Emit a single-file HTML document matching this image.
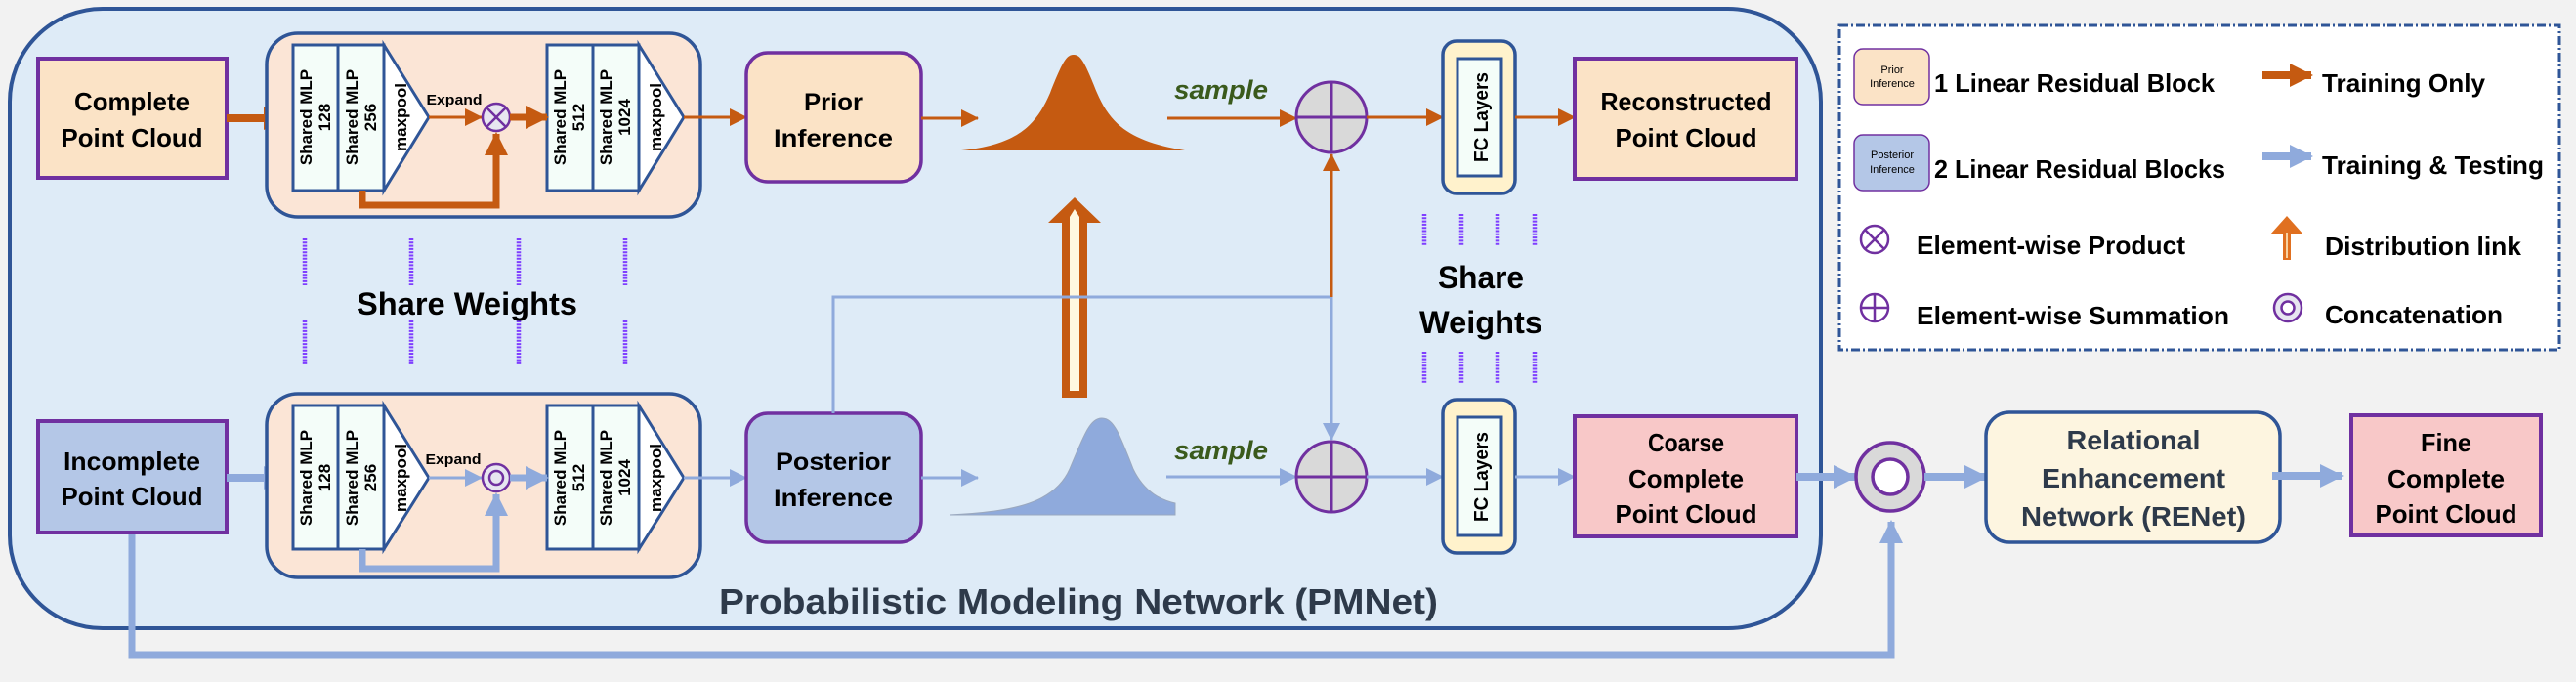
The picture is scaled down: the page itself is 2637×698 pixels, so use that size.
<!DOCTYPE html>
<html><head><meta charset="utf-8"><style>
html,body{margin:0;padding:0;background:#f2f2f2;}
svg{display:block;font-family:"Liberation Sans",sans-serif;font-weight:bold;}
</style></head><body>
<svg width="2637" height="698" viewBox="0 0 2637 698" xmlns="http://www.w3.org/2000/svg">
<defs>
<marker id="ob" markerUnits="userSpaceOnUse" markerWidth="24" markerHeight="24" refX="22" refY="12" orient="auto"><path d="M0,0 L24,12 L0,24 Z" fill="#c55a11"/></marker>
<marker id="os" markerUnits="userSpaceOnUse" markerWidth="18" markerHeight="18" refX="17" refY="9" orient="auto"><path d="M0,0 L18,9 L0,18 Z" fill="#c55a11"/></marker>
<marker id="bb" markerUnits="userSpaceOnUse" markerWidth="24" markerHeight="24" refX="22" refY="12" orient="auto"><path d="M0,0 L24,12 L0,24 Z" fill="#8faadc"/></marker>
<marker id="bs" markerUnits="userSpaceOnUse" markerWidth="18" markerHeight="18" refX="17" refY="9" orient="auto"><path d="M0,0 L18,9 L0,18 Z" fill="#8faadc"/></marker>
</defs>
<rect width="2637" height="698" fill="#f2f2f2"/>
<rect x="10" y="9" width="1854" height="634" rx="95" fill="#deebf7" stroke="#2f5597" stroke-width="4"/>

<path d="M135,545 L135,670 L1936,670 L1936,534" fill="none" stroke="#8faadc" stroke-width="7" marker-end="url(#bb)"/>

<rect x="39" y="60" width="193" height="122" fill="#fbe3c6" stroke="#7030a0" stroke-width="4"/>
<text x="135" y="113" font-size="26" text-anchor="middle" textLength="118" lengthAdjust="spacingAndGlyphs">Complete</text>
<text x="135" y="150" font-size="26" text-anchor="middle" textLength="145" lengthAdjust="spacingAndGlyphs">Point Cloud</text>
<rect x="39" y="431" width="193" height="114" fill="#b4c7e7" stroke="#7030a0" stroke-width="4"/>
<text x="135" y="481" font-size="26" text-anchor="middle" textLength="140" lengthAdjust="spacingAndGlyphs">Incomplete</text>
<text x="135" y="517" font-size="26" text-anchor="middle" textLength="145" lengthAdjust="spacingAndGlyphs">Point Cloud</text>

<line x1="232" y1="121" x2="292" y2="121" stroke="#c55a11" stroke-width="8" marker-end="url(#ob)"/>
<line x1="232" y1="489" x2="292" y2="489" stroke="#8faadc" stroke-width="8" marker-end="url(#bb)"/>

<rect x="273" y="34" width="444" height="188" rx="32" fill="#fbe5d6" stroke="#2f5597" stroke-width="3.5"/>
<rect x="273" y="403" width="444" height="188" rx="32" fill="#fbe5d6" stroke="#2f5597" stroke-width="3.5"/>

<g stroke="#2f5597" stroke-width="3" fill="#f4fdf9">
<rect x="300" y="46" width="46" height="149"/><rect x="346" y="46" width="47" height="149"/>
<path d="M393,46 L439,120 L393,195 Z" fill="#fff"/>
<rect x="560" y="46" width="47" height="149"/><rect x="607" y="46" width="47" height="149"/>
<path d="M654,46 L700,120 L654,195 Z" fill="#fff"/>
<rect x="300" y="415" width="46" height="147"/><rect x="346" y="415" width="47" height="147"/>
<path d="M393,415 L439,489 L393,562 Z" fill="#fff"/>
<rect x="560" y="415" width="47" height="147"/><rect x="607" y="415" width="47" height="147"/>
<path d="M654,415 L700,489 L654,562 Z" fill="#fff"/>
</g>
<g font-size="17" text-anchor="middle" fill="#000">
<g transform="translate(323,120) rotate(-90)"><text y="-4">Shared MLP</text><text y="15">128</text></g>
<g transform="translate(370,120) rotate(-90)"><text y="-4">Shared MLP</text><text y="15">256</text></g>
<g transform="translate(410,120) rotate(-90)"><text y="6">maxpool</text></g>
<g transform="translate(583,120) rotate(-90)"><text y="-4">Shared MLP</text><text y="15">512</text></g>
<g transform="translate(630,120) rotate(-90)"><text y="-4">Shared MLP</text><text y="15">1024</text></g>
<g transform="translate(671,120) rotate(-90)"><text y="6">maxpool</text></g>
<g transform="translate(323,489) rotate(-90)"><text y="-4">Shared MLP</text><text y="15">128</text></g>
<g transform="translate(370,489) rotate(-90)"><text y="-4">Shared MLP</text><text y="15">256</text></g>
<g transform="translate(410,489) rotate(-90)"><text y="6">maxpool</text></g>
<g transform="translate(583,489) rotate(-90)"><text y="-4">Shared MLP</text><text y="15">512</text></g>
<g transform="translate(630,489) rotate(-90)"><text y="-4">Shared MLP</text><text y="15">1024</text></g>
<g transform="translate(671,489) rotate(-90)"><text y="6">maxpool</text></g>
</g>
<text x="465" y="107" font-size="15" text-anchor="middle" textLength="57" lengthAdjust="spacingAndGlyphs">Expand</text>
<text x="464" y="475" font-size="15" text-anchor="middle" textLength="57" lengthAdjust="spacingAndGlyphs">Expand</text>

<line x1="439" y1="120" x2="493" y2="120" stroke="#c55a11" stroke-width="3" marker-end="url(#os)"/>
<path d="M371,195 L371,210 L508,210 L508,137" fill="none" stroke="#c55a11" stroke-width="7" marker-end="url(#ob)"/>
<circle cx="508" cy="120" r="14" fill="#e7e6f0" stroke="#7030a0" stroke-width="2.5"/>
<path d="M498,110 L518,130 M518,110 L498,130" stroke="#7030a0" stroke-width="2.5"/>
<line x1="522" y1="120" x2="560" y2="120" stroke="#c55a11" stroke-width="7" marker-end="url(#ob)"/>
<line x1="700" y1="120" x2="764" y2="120" stroke="#c55a11" stroke-width="3" marker-end="url(#os)"/>

<line x1="439" y1="489" x2="493" y2="489" stroke="#8faadc" stroke-width="3" marker-end="url(#bs)"/>
<path d="M371,562 L371,582 L508,582 L508,506" fill="none" stroke="#8faadc" stroke-width="7" marker-end="url(#bb)"/>
<circle cx="508" cy="489" r="14" fill="#e7e6f0" stroke="#7030a0" stroke-width="2.5"/>
<circle cx="508" cy="489" r="7" fill="none" stroke="#7030a0" stroke-width="2.5"/>
<line x1="522" y1="489" x2="560" y2="489" stroke="#8faadc" stroke-width="7" marker-end="url(#bb)"/>
<line x1="700" y1="489" x2="764" y2="489" stroke="#8faadc" stroke-width="3" marker-end="url(#bs)"/>

<g stroke="#7f3fff" stroke-width="4.5" stroke-dasharray="2 1.3">
<line x1="312" y1="244" x2="312" y2="292"/><line x1="421" y1="244" x2="421" y2="292"/><line x1="531" y1="244" x2="531" y2="292"/><line x1="640" y1="244" x2="640" y2="292"/>
<line x1="312" y1="328" x2="312" y2="373"/><line x1="421" y1="328" x2="421" y2="373"/><line x1="531" y1="328" x2="531" y2="373"/><line x1="640" y1="328" x2="640" y2="373"/>
<line x1="1458" y1="219" x2="1458" y2="251"/><line x1="1496" y1="219" x2="1496" y2="251"/><line x1="1533" y1="219" x2="1533" y2="251"/><line x1="1571" y1="219" x2="1571" y2="251"/>
<line x1="1458" y1="360" x2="1458" y2="392"/><line x1="1496" y1="360" x2="1496" y2="392"/><line x1="1533" y1="360" x2="1533" y2="392"/><line x1="1571" y1="360" x2="1571" y2="392"/>
</g>
<text x="478" y="322" font-size="32" text-anchor="middle" textLength="226" lengthAdjust="spacingAndGlyphs">Share Weights</text>
<text x="1516" y="295" font-size="32" text-anchor="middle" textLength="88" lengthAdjust="spacingAndGlyphs">Share</text>
<text x="1516" y="341" font-size="32" text-anchor="middle" textLength="126" lengthAdjust="spacingAndGlyphs">Weights</text>

<rect x="764" y="54" width="179" height="132" rx="22" fill="#fbe3c6" stroke="#7030a0" stroke-width="3.5"/>
<text x="853" y="113" font-size="25" text-anchor="middle" textLength="60" lengthAdjust="spacingAndGlyphs">Prior</text>
<text x="853" y="150" font-size="25" text-anchor="middle" textLength="122" lengthAdjust="spacingAndGlyphs">Inference</text>
<rect x="764" y="423" width="179" height="132" rx="22" fill="#b4c7e7" stroke="#7030a0" stroke-width="3.5"/>
<text x="853" y="481" font-size="25" text-anchor="middle" textLength="118" lengthAdjust="spacingAndGlyphs">Posterior</text>
<text x="853" y="518" font-size="25" text-anchor="middle" textLength="122" lengthAdjust="spacingAndGlyphs">Inference</text>
<line x1="943" y1="121" x2="1001" y2="121" stroke="#c55a11" stroke-width="3" marker-end="url(#os)"/>
<line x1="943" y1="489" x2="1001" y2="489" stroke="#8faadc" stroke-width="3" marker-end="url(#bs)"/>

<path d="M984,154 C1040,148 1060,130 1075,95 C1088,62 1092,56 1099,56 C1106,56 1110,62 1123,95 C1138,130 1160,145 1213,154 Z" fill="#c55a11"/>
<path d="M972,527 C1040,524 1080,514 1095,480 C1110,444 1116,428 1128,428 C1140,428 1146,444 1160,480 C1172,505 1190,512 1203,515 L1203,527 Z" fill="#8faadc" stroke="#9aa8bf" stroke-width="1"/>

<path d="M1087,407 L1087,228 L1073,228 L1100,202 L1127,228 L1113,228 L1113,407 Z" fill="#c55a11"/>
<path d="M1095,400 L1095,222 L1100,214 L1105,222 L1105,400 Z" fill="#fff8e0"/>

<text x="1250" y="101" font-size="27" font-style="italic" fill="#3a5a1c" text-anchor="middle" textLength="96" lengthAdjust="spacingAndGlyphs">sample</text>
<text x="1250" y="470" font-size="27" font-style="italic" fill="#3a5a1c" text-anchor="middle" textLength="96" lengthAdjust="spacingAndGlyphs">sample</text>
<line x1="1195" y1="121" x2="1327" y2="121" stroke="#c55a11" stroke-width="3" marker-end="url(#os)"/>
<line x1="1194" y1="488" x2="1327" y2="488" stroke="#8faadc" stroke-width="3" marker-end="url(#bs)"/>

<path d="M853,423 L853,304 L1363,304 L1363,450" fill="none" stroke="#8faadc" stroke-width="3" marker-end="url(#bs)"/>
<line x1="1363" y1="304" x2="1363" y2="158" stroke="#c55a11" stroke-width="3" marker-end="url(#os)"/>

<g stroke="#7030a0" stroke-width="3">
<circle cx="1363" cy="120" r="36" fill="#d9d9d9"/><path d="M1327,120 H1399 M1363,84 V156"/>
<circle cx="1363" cy="488" r="36" fill="#d9d9d9"/><path d="M1327,488 H1399 M1363,452 V524"/>
</g>
<line x1="1399" y1="120" x2="1477" y2="120" stroke="#c55a11" stroke-width="3" marker-end="url(#os)"/>
<line x1="1399" y1="488" x2="1477" y2="488" stroke="#8faadc" stroke-width="3" marker-end="url(#bs)"/>

<rect x="1477" y="42" width="74" height="156" rx="14" fill="#fff2cc" stroke="#2f5597" stroke-width="3.5"/>
<rect x="1492" y="60" width="45" height="120" fill="#f4fdf9" stroke="#2f5597" stroke-width="3"/>
<text transform="translate(1523,120) rotate(-90)" font-size="20" text-anchor="middle" textLength="92" lengthAdjust="spacingAndGlyphs">FC Layers</text>
<rect x="1477" y="409" width="74" height="157" rx="14" fill="#fff2cc" stroke="#2f5597" stroke-width="3.5"/>
<rect x="1492" y="427" width="45" height="121" fill="#f4fdf9" stroke="#2f5597" stroke-width="3"/>
<text transform="translate(1523,488) rotate(-90)" font-size="20" text-anchor="middle" textLength="92" lengthAdjust="spacingAndGlyphs">FC Layers</text>
<line x1="1551" y1="120" x2="1612" y2="120" stroke="#c55a11" stroke-width="3" marker-end="url(#os)"/>
<line x1="1551" y1="488" x2="1612" y2="488" stroke="#8faadc" stroke-width="3" marker-end="url(#bs)"/>

<rect x="1612" y="60" width="227" height="123" fill="#fbe3c6" stroke="#7030a0" stroke-width="4"/>
<text x="1726" y="113" font-size="26" text-anchor="middle" textLength="175" lengthAdjust="spacingAndGlyphs">Reconstructed</text>
<text x="1726" y="150" font-size="26" text-anchor="middle" textLength="145" lengthAdjust="spacingAndGlyphs">Point Cloud</text>
<rect x="1612" y="426" width="227" height="123" fill="#f8c8c8" stroke="#7030a0" stroke-width="4"/>
<text x="1726" y="462" font-size="26" text-anchor="middle" textLength="78" lengthAdjust="spacingAndGlyphs">Coarse</text>
<text x="1726" y="499" font-size="26" text-anchor="middle" textLength="118" lengthAdjust="spacingAndGlyphs">Complete</text>
<text x="1726" y="535" font-size="26" text-anchor="middle" textLength="145" lengthAdjust="spacingAndGlyphs">Point Cloud</text>

<text x="1104" y="628" font-size="36" fill="#2e3a4a" text-anchor="middle" textLength="736" lengthAdjust="spacingAndGlyphs">Probabilistic Modeling Network (PMNet)</text>

<line x1="1839" y1="488" x2="1899" y2="488" stroke="#8faadc" stroke-width="8" marker-end="url(#bb)"/>
<circle cx="1935" cy="488" r="35" fill="#d9d9d9" stroke="#7030a0" stroke-width="3.5"/>
<circle cx="1935" cy="488" r="18" fill="#fff" stroke="#7030a0" stroke-width="3.5"/>
<line x1="1970" y1="488" x2="2033" y2="488" stroke="#8faadc" stroke-width="8" marker-end="url(#bb)"/>
<rect x="2033" y="422" width="301" height="133" rx="24" fill="#fdf5e0" stroke="#2f5597" stroke-width="3.5"/>
<text x="2184" y="460" font-size="28" fill="#2e3a4a" text-anchor="middle" textLength="137" lengthAdjust="spacingAndGlyphs">Relational</text>
<text x="2184" y="499" font-size="28" fill="#2e3a4a" text-anchor="middle" textLength="188" lengthAdjust="spacingAndGlyphs">Enhancement</text>
<text x="2184" y="538" font-size="28" fill="#2e3a4a" text-anchor="middle" textLength="230" lengthAdjust="spacingAndGlyphs">Network (RENet)</text>
<line x1="2326" y1="487" x2="2397" y2="487" stroke="#8faadc" stroke-width="8" marker-end="url(#bb)"/>
<rect x="2407" y="425" width="194" height="123" fill="#f8c8c8" stroke="#7030a0" stroke-width="4"/>
<text x="2504" y="462" font-size="26" text-anchor="middle" textLength="52" lengthAdjust="spacingAndGlyphs">Fine</text>
<text x="2504" y="499" font-size="26" text-anchor="middle" textLength="120" lengthAdjust="spacingAndGlyphs">Complete</text>
<text x="2504" y="535" font-size="26" text-anchor="middle" textLength="145" lengthAdjust="spacingAndGlyphs">Point Cloud</text>

<rect x="1883" y="26" width="737" height="332" fill="#fff" stroke="#2f5597" stroke-width="3" stroke-dasharray="9 3 2 3"/>
<rect x="1898" y="50" width="77" height="57" rx="9" fill="#fbe3c6" stroke="#7030a0" stroke-width="1.5"/>
<text x="1937" y="75" font-size="11" font-weight="normal" text-anchor="middle">Prior</text>
<text x="1937" y="89" font-size="11" font-weight="normal" text-anchor="middle">Inference</text>
<rect x="1898" y="138" width="77" height="57" rx="9" fill="#b4c7e7" stroke="#7030a0" stroke-width="1.5"/>
<text x="1937" y="162" font-size="11" font-weight="normal" text-anchor="middle">Posterior</text>
<text x="1937" y="177" font-size="11" font-weight="normal" text-anchor="middle">Inference</text>
<g font-size="26">
<text x="1980" y="94" textLength="287" lengthAdjust="spacingAndGlyphs">1 Linear Residual Block</text>
<text x="1980" y="182" textLength="298" lengthAdjust="spacingAndGlyphs">2 Linear Residual Blocks</text>
<text x="1962" y="260" textLength="275" lengthAdjust="spacingAndGlyphs">Element-wise Product</text>
<text x="1962" y="332" textLength="320" lengthAdjust="spacingAndGlyphs">Element-wise Summation</text>
<text x="2377" y="94" textLength="167" lengthAdjust="spacingAndGlyphs">Training Only</text>
<text x="2377" y="178" textLength="227" lengthAdjust="spacingAndGlyphs">Training &amp; Testing</text>
<text x="2380" y="261" textLength="201" lengthAdjust="spacingAndGlyphs">Distribution link</text>
<text x="2380" y="331" textLength="182" lengthAdjust="spacingAndGlyphs">Concatenation</text>
</g>
<line x1="2316" y1="77" x2="2366" y2="77" stroke="#c55a11" stroke-width="8" marker-end="url(#ob)"/>
<line x1="2316" y1="160" x2="2366" y2="160" stroke="#8faadc" stroke-width="8" marker-end="url(#bb)"/>
<g stroke="#7030a0" stroke-width="2.5" fill="#fff">
<circle cx="1919" cy="245" r="14"/><path d="M1909,235 L1929,255 M1929,235 L1909,255"/>
<circle cx="1919" cy="315" r="14"/><path d="M1905,315 H1933 M1919,301 V329"/>
<circle cx="2342" cy="315" r="14" fill="#e7e6f0"/><circle cx="2342" cy="315" r="6.5"/>
</g>
<path d="M2337,266 L2337,240 L2324,240 L2341,221 L2358,240 L2345,240 L2345,266 Z" fill="#e07020"/>
<line x1="2341" y1="238" x2="2341" y2="264" stroke="#fff2cc" stroke-width="1.5"/>
</svg>
</body></html>
